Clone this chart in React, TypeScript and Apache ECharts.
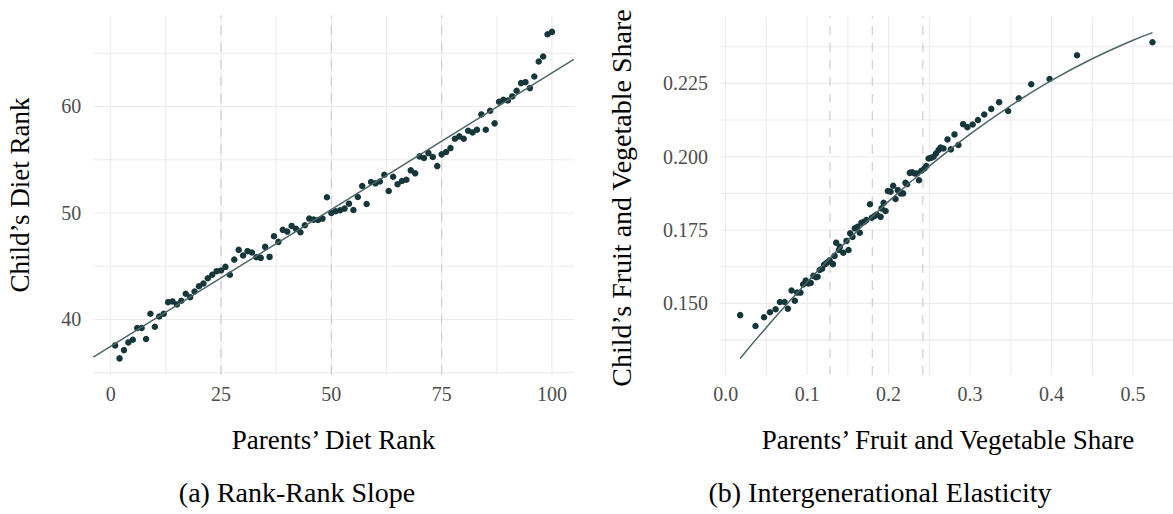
import React, { useEffect, useRef } from "react";
import * as echarts from "echarts";

// ---------- Panel (a): Rank-Rank Slope ----------
const parentRank = [
  1, 2, 3, 4, 5, 6, 7, 8, 9, 10, 11, 12, 13, 14, 15, 16, 17, 18, 19, 20,
  21, 22, 23, 24, 25, 26, 27, 28, 29, 30, 31, 32, 33, 34, 35, 36, 37, 38, 39, 40,
  41, 42, 43, 44, 45, 46, 47, 48, 49, 50, 51, 52, 53, 54, 55, 56, 57, 58, 59, 60,
  61, 62, 63, 64, 65, 66, 67, 68, 69, 70, 71, 72, 73, 74, 75, 76, 77, 78, 79, 80,
  81, 82, 83, 84, 85, 86, 87, 88, 89, 90, 91, 92, 93, 94, 95, 96, 97, 98, 99, 100,
];
const childRank = [
  37.56, 36.34, 37.12, 37.84, 38.09, 39.19, 39.19, 38.16, 40.53, 39.31,
  40.28, 40.53, 41.62, 41.69, 41.41, 41.75, 42.41, 42.09, 42.62, 43.12,
  43.37, 43.87, 44.19, 44.53, 44.59, 44.94, 44.19, 45.62, 46.53, 46.0,
  46.41, 46.28, 45.84, 45.78, 46.81, 45.87, 47.81, 47.28, 48.41, 48.25,
  48.78, 48.5, 48.19, 48.84, 49.47, 49.37, 49.34, 49.47, 51.47, 50.0,
  50.16, 50.25, 50.41, 50.87, 50.28, 51.5, 52.53, 50.84, 52.9, 52.78,
  52.95, 53.59, 52.06, 53.4, 52.69, 53.0, 53.12, 54.0, 53.72, 55.31,
  55.16, 55.62, 55.25, 54.4, 55.5, 55.72, 56.09, 56.97, 57.19, 56.97,
  57.72, 57.56, 57.81, 59.25, 57.81, 59.59, 58.41, 60.44, 60.62, 60.56,
  60.94, 61.47, 62.19, 62.28, 61.72, 62.81, 64.22, 64.69, 66.78, 67.0,
];
const fitRankX = [-3.95, 104.95];
const fitRankY = [36.47, 64.43];
const rankXTicks = [0, 25, 50, 75, 100];
const rankXMinor = [12.5, 37.5, 62.5, 87.5];
const rankYTicks = [40, 50, 60];
const rankYMinor = [35, 45, 55, 65];
const rankDashed = [25, 50, 75];

// ---------- Panel (b): Intergenerational Elasticity ----------
const parentShare = [
  0.0178, 0.0366, 0.0471, 0.0544, 0.0613, 0.0666, 0.0723, 0.0764, 0.0809, 0.0849,
  0.0878, 0.0918, 0.0951, 0.0983, 0.1016, 0.1044, 0.1077, 0.111, 0.1129, 0.1154,
  0.1183, 0.1207, 0.1227, 0.1248, 0.1276, 0.1317, 0.1337, 0.1357, 0.139, 0.1402,
  0.1443, 0.1483, 0.1508, 0.1528, 0.1557, 0.1585, 0.1618, 0.1646, 0.1666, 0.1699,
  0.1727, 0.1772, 0.1793, 0.1829, 0.1854, 0.1902, 0.1914, 0.1939, 0.1963, 0.1991,
  0.2024, 0.2056, 0.2085, 0.2113, 0.215, 0.2178, 0.2207, 0.2227, 0.226, 0.2288,
  0.2321, 0.2349, 0.2373, 0.2402, 0.2439, 0.2463, 0.2491, 0.252, 0.2552, 0.2581,
  0.2613, 0.2638, 0.2674, 0.2723, 0.2764, 0.2809, 0.2857, 0.2915, 0.2967, 0.3032,
  0.3097, 0.3174, 0.326, 0.3357, 0.3467, 0.3598, 0.3751, 0.3976, 0.4313, 0.5239,
];
const childShare = [
  0.146, 0.1423, 0.1453, 0.147, 0.148, 0.1505, 0.1505, 0.1482, 0.1544, 0.1509,
  0.1537, 0.1537, 0.1565, 0.1578, 0.1568, 0.157, 0.1594, 0.1589, 0.1591, 0.1614,
  0.1618, 0.1632, 0.1635, 0.164, 0.1647, 0.1634, 0.1662, 0.1707, 0.1682, 0.1693,
  0.1673, 0.1713, 0.1682, 0.1739, 0.1727, 0.1756, 0.1761, 0.1741, 0.1775, 0.1778,
  0.1784, 0.1838, 0.1792, 0.1798, 0.1803, 0.1795, 0.1824, 0.1843, 0.1815, 0.1883,
  0.1881, 0.1901, 0.1856, 0.1886, 0.1875, 0.1875, 0.1911, 0.1906, 0.1945, 0.1947,
  0.1943, 0.1943, 0.192, 0.1952, 0.196, 0.1968, 0.1994, 0.1996, 0.2, 0.2011,
  0.2023, 0.2031, 0.2028, 0.2059, 0.2025, 0.2076, 0.204, 0.2111, 0.2101, 0.211,
  0.2125, 0.2144, 0.2163, 0.2186, 0.2156, 0.2199, 0.2247, 0.2265, 0.2346, 0.239,
];
const fitShareX = [0.0178, 0.05, 0.1, 0.15, 0.2, 0.25, 0.3, 0.35, 0.4, 0.45, 0.5, 0.524];
const fitShareY = [0.1312, 0.1418, 0.1573, 0.1716, 0.1848, 0.1968, 0.2077, 0.2174, 0.226, 0.2334, 0.2397, 0.2423];
const shareXTicks = [0, 0.1, 0.2, 0.3, 0.4, 0.5];
const shareXMinor = [0.05, 0.15, 0.25, 0.35, 0.45];
const shareYTicks = [0.15, 0.175, 0.2, 0.225];
const shareYMinor = [0.1375, 0.1625, 0.1875, 0.2125, 0.2375];
const shareDashed = [0.128, 0.18, 0.242];

const FONT = "Liberation Serif";
const POINT = "#15363a";
const LINE = "#4c6668";
const GRIDC = "#ebebeb";

const RANK_X = [-3.95, 104.95];
const RANK_Y = [34.81, 68.53];
const SHARE_X = [-0.00695, 0.5491];
const SHARE_Y = [0.1256, 0.2479];

function zip(a: number[], b: number[]) {
  return a.map((v, i) => [v, b[i]]);
}

// Reference lines (grid and dashed) drawn as plain line series through the axes
function refLines(
  idx: number,
  vals: number[],
  axis: "x" | "y",
  xr: number[],
  yr: number[],
  color: string,
  type: any,
  z: number
) {
  return vals.map((v) => ({
    type: "line",
    xAxisIndex: idx,
    yAxisIndex: idx,
    data:
      axis === "x"
        ? [
            [v, yr[0]],
            [v, yr[1]],
          ]
        : [
            [xr[0], v],
            [xr[1], v],
          ],
    silent: true,
    showSymbol: false,
    symbol: "none",
    z,
    lineStyle: { color, width: 1.1, type },
  }));
}

export default function App() {
  const ref = useRef<HTMLDivElement>(null);
  useEffect(() => {
    document.body.style.margin = "0";
    if (!ref.current) return;
    const chart = echarts.init(ref.current, undefined, { renderer: "svg" });
    const axisLabelBase = {
      fontFamily: FONT,
      fontSize: 20,
      color: "#4d4d4d",
    };
    const titleStyle = (text: string, size: number) => ({
      text,
      fill: "#000",
      font: `${size}px "${FONT}"`,
      textAlign: "center",
      textVerticalAlign: "middle",
    });
    const option: any = {
      animation: false,
      backgroundColor: "#ffffff",
      grid: [
        { left: 93.3, top: 15.6, width: 480.5, height: 359.1 },
        { left: 720, top: 16.2, width: 456, height: 358.8 },
      ],
      xAxis: [
        {
          type: "value",
          gridIndex: 0,
          min: RANK_X[0],
          max: RANK_X[1],
          axisLine: { show: false },
          axisTick: { show: false },
          splitLine: { show: false },
          axisLabel: { ...axisLabelBase, margin: 9, customValues: rankXTicks },
        },
        {
          type: "value",
          gridIndex: 1,
          min: SHARE_X[0],
          max: SHARE_X[1],
          axisLine: { show: false },
          axisTick: { show: false },
          splitLine: { show: false },
          axisLabel: {
            ...axisLabelBase,
            margin: 9,
            customValues: shareXTicks,
            formatter: (v: number) => v.toFixed(1),
          },
        },
      ],
      yAxis: [
        {
          type: "value",
          gridIndex: 0,
          min: RANK_Y[0],
          max: RANK_Y[1],
          axisLine: { show: false },
          axisTick: { show: false },
          splitLine: { show: false },
          axisLabel: { ...axisLabelBase, margin: 12, customValues: rankYTicks },
        },
        {
          type: "value",
          gridIndex: 1,
          min: SHARE_Y[0],
          max: SHARE_Y[1],
          axisLine: { show: false },
          axisTick: { show: false },
          splitLine: { show: false },
          axisLabel: {
            ...axisLabelBase,
            margin: 12,
            customValues: shareYTicks,
            formatter: (v: number) => v.toFixed(3),
          },
        },
      ],
      series: [
        ...refLines(0, [...rankXTicks, ...rankXMinor], "x", RANK_X, RANK_Y, GRIDC, "solid", 1),
        ...refLines(0, [...rankYTicks, ...rankYMinor], "y", RANK_X, RANK_Y, GRIDC, "solid", 1),
        ...refLines(0, rankDashed, "x", RANK_X, RANK_Y, "#c9c9c9", [9, 8], 2),
        ...refLines(1, [...shareXTicks, ...shareXMinor], "x", SHARE_X, SHARE_Y, GRIDC, "solid", 1),
        ...refLines(1, [...shareYTicks, ...shareYMinor], "y", SHARE_X, SHARE_Y, GRIDC, "solid", 1),
        ...refLines(1, shareDashed, "x", SHARE_X, SHARE_Y, "#c9c9c9", [9, 8], 2),
        {
          type: "scatter",
          xAxisIndex: 0,
          yAxisIndex: 0,
          data: zip(parentRank, childRank),
          symbolSize: 6.5,
          itemStyle: { color: POINT, opacity: 1 },
          z: 3,
        },
        {
          type: "line",
          xAxisIndex: 0,
          yAxisIndex: 0,
          data: zip(fitRankX, fitRankY),
          showSymbol: false,
          symbol: "none",
          lineStyle: { color: LINE, width: 1.5 },
          z: 4,
        },
        {
          type: "scatter",
          xAxisIndex: 1,
          yAxisIndex: 1,
          data: zip(parentShare, childShare),
          symbolSize: 6.5,
          itemStyle: { color: POINT, opacity: 1 },
          z: 3,
        },
        {
          type: "line",
          xAxisIndex: 1,
          yAxisIndex: 1,
          data: zip(fitShareX, fitShareY),
          smooth: true,
          showSymbol: false,
          symbol: "none",
          lineStyle: { color: LINE, width: 1.5 },
          z: 4,
        },
      ],
      graphic: [
        { type: "text", x: 19.5, y: 195, rotation: Math.PI / 2, style: titleStyle("Child’s Diet Rank", 27) },
        { type: "text", x: 621.5, y: 198, rotation: Math.PI / 2, style: titleStyle("Child’s Fruit and Vegetable Share", 28) },
        { type: "text", x: 333.5, y: 440, style: titleStyle("Parents’ Diet Rank", 27) },
        { type: "text", x: 948, y: 440, style: titleStyle("Parents’ Fruit and Vegetable Share", 27) },
        { type: "text", x: 297, y: 492, style: titleStyle("(a) Rank-Rank Slope", 28) },
        { type: "text", x: 880, y: 492, style: titleStyle("(b) Intergenerational Elasticity", 28) },
      ],
    };
    chart.setOption(option);
    return () => chart.dispose();
  }, []);
  return <div ref={ref} style={{ width: 1173, height: 514 }} />;
}
